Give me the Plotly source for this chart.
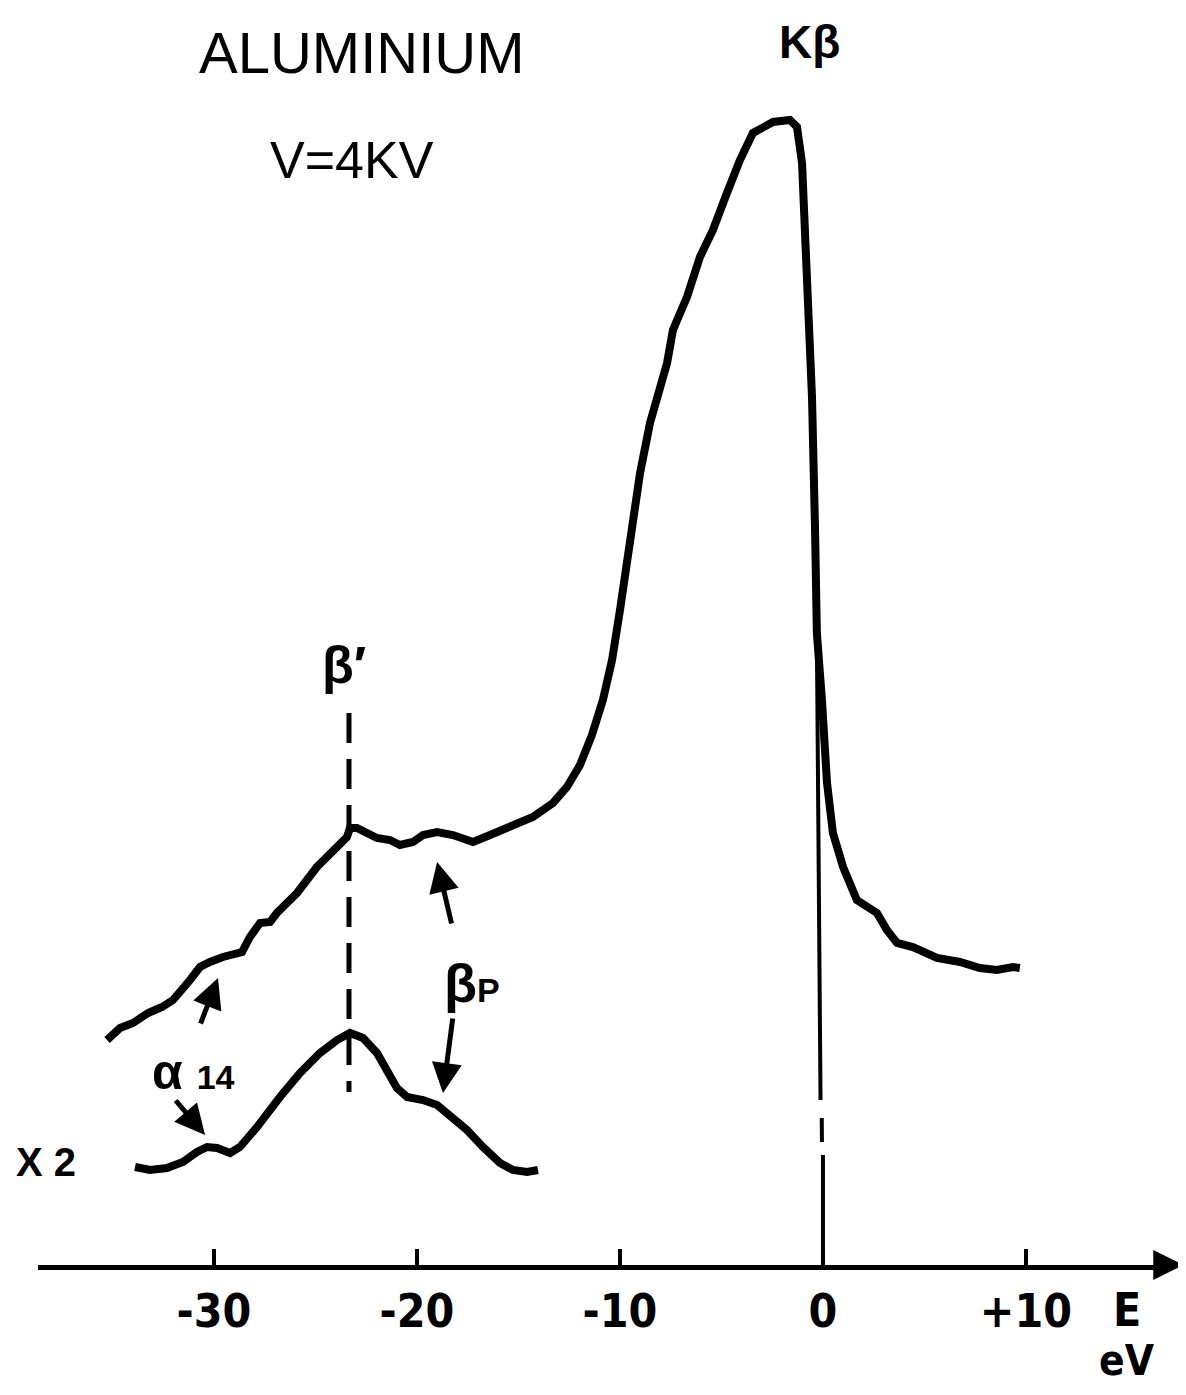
import plotly.graph_objects as go

# main Kβ spectrum (energy in eV, intensity in arbitrary units)
main_e = [-35.27, -34.63, -33.99, -33.25, -32.56, -32.02, -31.18, -30.69, -30.20, -29.56,
          -28.62, -28.23, -27.73, -27.24, -26.90, -25.91, -24.93, -24.14, -23.45, -23.30,
          -22.96, -21.97, -21.33, -20.84, -20.20, -19.70, -19.01, -18.23, -17.54, -17.24,
          -16.40, -15.42, -14.29, -13.30, -12.61, -11.97, -11.38, -10.84, -10.39, -10.00,
          -9.66, -9.41, -9.01, -8.52, -8.18, -7.68, -7.39, -6.70, -6.06, -5.42,
          -4.73, -4.09, -3.45, -2.46, -1.63, -1.28, -1.03, -0.89, -0.74, -0.54,
          -0.39, -0.30, -0.05, 0.20, 0.49, 0.99, 1.67, 2.32, 2.66, 3.15,
          3.65, 4.43, 5.62, 6.75, 7.73, 8.57, 9.36, 9.70]
main_i = [225, 237, 242, 252, 258, 265, 285, 298, 303, 308,
          313, 328, 342, 343, 352, 372, 398, 415, 428, 437,
          437, 427, 425, 420, 423, 430, 433, 430, 425, 423,
          430, 438, 448, 462, 478, 500, 530, 565, 605, 655,
          700, 735, 792, 842, 868, 902, 935, 968, 1008, 1035,
          1072, 1105, 1132, 1143, 1145, 1138, 1102, 1035, 952, 868,
          735, 632, 565, 482, 432, 398, 365, 357, 352, 335,
          322, 318, 307, 303, 297, 295, 298, 297]

# satellite region magnified x2
sat_e = [-33.89, -33.15, -32.32, -31.53, -30.84, -30.34, -29.85, -29.21, -28.72, -27.88,
         -26.75, -25.76, -24.78, -23.94, -23.30, -22.66, -21.97, -21.48, -20.99, -20.49,
         -19.70, -19.01, -18.23, -17.54, -16.75, -15.91, -15.27, -14.58, -14.04]
sat_i = [98, 95, 97, 103, 113, 118, 117, 112, 118, 138,
         168, 192, 212, 225, 232, 227, 212, 195, 177, 168,
         165, 160, 148, 135, 118, 102, 95, 93, 95]

# β' marker and Fermi-level marker
beta_e = [-23.35, -23.35]
beta_i = [552, 173]
fermi_e = [-0.30, -0.12, None, -0.06, -0.05, None, 0.0, 0.0]
fermi_i = [628, 165, None, 147, 123, None, 110, 0]

tick_vals = [-30, -20, -10, 0, 10]
tick_text = ["-30", "-20", "-10", "0", "+10"]

# arrows: (tail E, tail I, head E, head I)
arrows = [(-30.69, 240, -29.80, 287),
          (-18.28, 340, -19.01, 403),
          (-18.23, 248, -18.72, 172),
          (-31.95, 166, -30.44, 130)]

narrow = "DejaVu Sans Condensed, Liberation Sans Narrow, Liberation Sans, sans-serif"
plain = "Liberation Sans, Arial, sans-serif"

fig = go.Figure()
fig.add_trace(go.Scatter(x=main_e, y=main_i, mode="lines",
                         line=dict(color="black", width=8), cliponaxis=False))
fig.add_trace(go.Scatter(x=sat_e, y=sat_i, mode="lines",
                         line=dict(color="black", width=8), cliponaxis=False))
fig.add_trace(go.Scatter(x=beta_e, y=beta_i, mode="lines",
                         line=dict(color="black", width=5, dash="30px,16px"), cliponaxis=False))
fig.add_trace(go.Scatter(x=fermi_e, y=fermi_i, mode="lines", connectgaps=False,
                         line=dict(color="black", width=4), cliponaxis=False))

for te, ti, he, hi in arrows:
    fig.add_annotation(x=he, y=hi, ax=te, ay=ti, xref="x", yref="y", axref="x", ayref="y",
                       text="", showarrow=True, arrowhead=2, arrowsize=1.2, arrowwidth=5,
                       arrowcolor="black")

# arrow at the end of the energy axis
fig.add_annotation(x=17.75, y=0, ax=16.6, ay=0, xref="x", yref="y", axref="x", ayref="y",
                   text="", showarrow=True, arrowhead=2, arrowsize=1.2, arrowwidth=5,
                   arrowcolor="black")

labels = [
    ("ALUMINIUM", -22.71, 1213, 58, plain),
    ("V=4KV", -23.2, 1105, 52, plain),
    ("<b>Kβ</b>", -0.64, 1223, 46, plain),
    ("<b>β′</b>", -23.6, 600, 52, plain),
    ("<b>β</b><span style='font-size:34px'><b>P</b></span>", -17.3, 282, 54, plain),
    ("<b>α</b> <span style='font-size:34px'><b>14</b></span>", -31.0, 193, 50, plain),
    ("<b>X 2</b>", -38.3, 103, 40, plain),
]
for txt, lx, ly, size, fam in labels:
    fig.add_annotation(x=lx, y=ly, xref="x", yref="y", text=txt, showarrow=False,
                       font=dict(size=size, color="black", family=fam))

# axis name below the +10 label
for txt, py, sz in [("<b>E</b>", -0.036, 46), ("<b>eV</b>", -0.076, 42)]:
    fig.add_annotation(x=15.0, y=py, xref="x", yref="paper", yanchor="middle",
                       text=txt, showarrow=False,
                       font=dict(size=sz, color="black", family=narrow))

fig.update_layout(
    width=1170, height=1379,
    margin=dict(l=30, r=13, t=0, b=122),
    paper_bgcolor="white", plot_bgcolor="white",
    showlegend=False,
    xaxis=dict(range=[-38.67, 16.85], showgrid=False, zeroline=False,
               showline=True, linewidth=5, linecolor="black",
               tickmode="array", tickvals=tick_vals, ticktext=tick_text,
               ticks="inside", ticklen=16, tickwidth=4, tickcolor="black",
               ticklabelstandoff=2,
               tickfont=dict(size=46, color="black", family=narrow, weight="bold")),
    yaxis=dict(range=[0, 1257], visible=False),
)

fig.write_html("out.html")
